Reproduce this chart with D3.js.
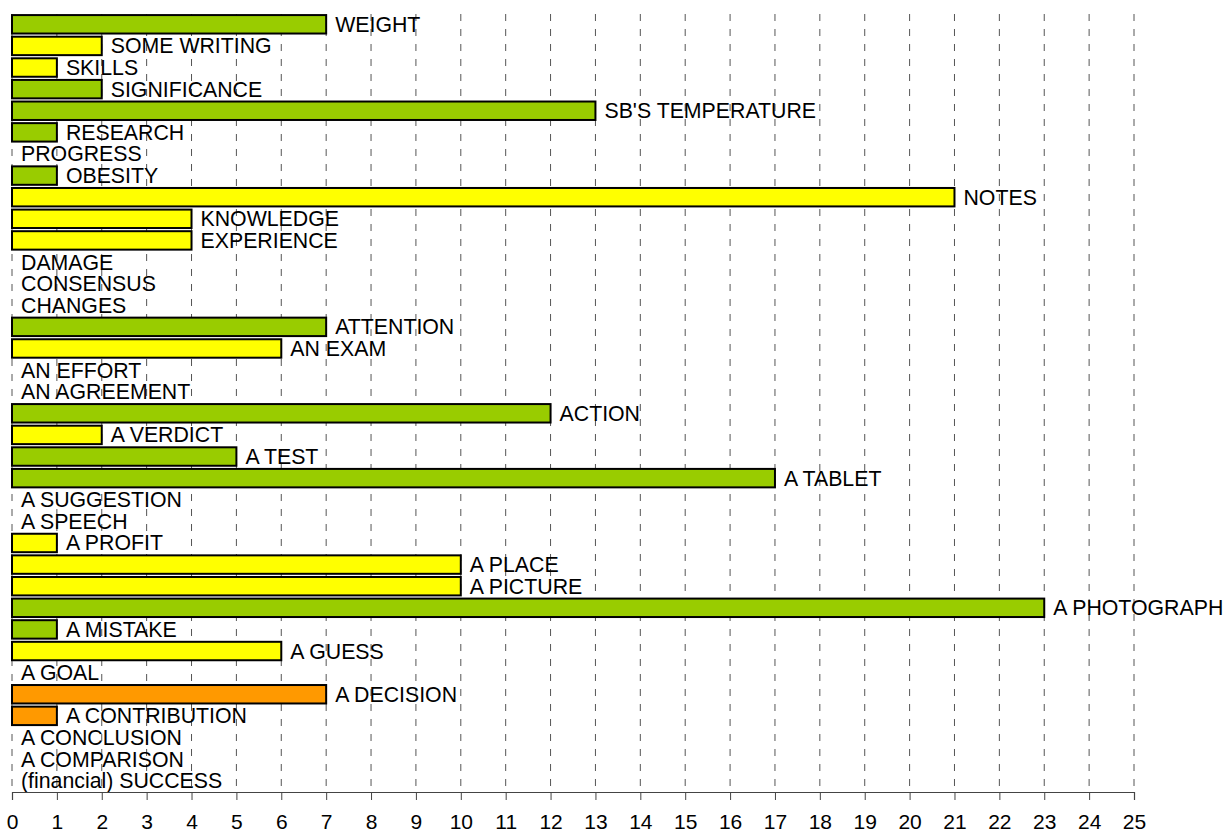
<!DOCTYPE html>
<html>
<head>
<meta charset="utf-8">
<script src="https://cdn.jsdelivr.net/npm/d3@7"></script>
<style>
  body { margin: 0; background: #fff; }
  svg text { font-family: 'Liberation Sans', Arial, sans-serif; fill: #000; }
</style>
</head>
<body>
<svg width="1226" height="833"></svg>
<script>
const categories = [
  'WEIGHT', 'SOME WRITING', 'SKILLS', 'SIGNIFICANCE', "SB'S TEMPERATURE", 'RESEARCH',
  'PROGRESS', 'OBESITY', 'NOTES', 'KNOWLEDGE', 'EXPERIENCE', 'DAMAGE', 'CONSENSUS',
  'CHANGES', 'ATTENTION', 'AN EXAM', 'AN EFFORT', 'AN AGREEMENT', 'ACTION', 'A VERDICT',
  'A TEST', 'A TABLET', 'A SUGGESTION', 'A SPEECH', 'A PROFIT', 'A PLACE', 'A PICTURE',
  'A PHOTOGRAPH', 'A MISTAKE', 'A GUESS', 'A GOAL', 'A DECISION', 'A CONTRIBUTION',
  'A CONCLUSION', 'A COMPARISON', '(financial) SUCCESS'
]
const values = [
  7, 2, 1, 2, 13, 1,
  0, 1, 21, 4, 4, 0, 0,
  0, 7, 6, 0, 0, 12, 2,
  5, 17, 0, 0, 1, 10, 10,
  23, 1, 6, 0, 7, 1,
  0, 0, 0
]
// group of each category (decides the bar colour)
const groups = [
  'g', 'y', 'y', 'g', 'g', 'g',
  'y', 'g', 'y', 'y', 'y', 'y', 'y',
  'y', 'g', 'y', 'y', 'y', 'g', 'y',
  'g', 'g', 'y', 'y', 'y', 'y', 'y',
  'g', 'g', 'y', 'y', 'o', 'o',
  'o', 'o', 'o'
]
const xTicks = d3.range(0, 26)

const data = categories.map((c, i) => ({name: c, value: values[i], group: groups[i]}))

const svg = d3.select('svg')
const x = d3.scaleLinear().domain([0, 25]).range([12, 1134])
const y = d3.scaleBand().domain(categories).range([13, 791]).paddingInner(0.1).paddingOuter(0.05)
const color = d3.scaleOrdinal().domain(['g', 'y', 'o']).range(['#99cc00', '#ffff00', '#ff9900'])

// dashed grid lines
svg.append('g')
  .selectAll('line')
  .data(xTicks)
  .enter()
  .append('line')
  .attr('x1', (d) => x(d))
  .attr('x2', (d) => x(d))
  .attr('y1', 14)
  .attr('y2', 791)
  .attr('stroke', '#555')
  .attr('stroke-width', 1)
  .attr('stroke-dasharray', '7,8')

// bars
svg.append('g')
  .selectAll('rect')
  .data(data.filter((d) => d.value > 0))
  .enter()
  .append('rect')
  .attr('x', x(0))
  .attr('y', (d) => y(d.name) + 1)
  .attr('width', (d) => x(d.value) - x(0))
  .attr('height', y.bandwidth() - 1)
  .attr('fill', (d) => color(d.group))
  .attr('stroke', '#000')
  .attr('stroke-width', 2)

// labels
svg.append('g')
  .selectAll('text')
  .data(data)
  .enter()
  .append('text')
  .attr('x', (d) => x(d.value) + 9)
  .attr('y', (d) => y(d.name) + y.bandwidth() / 2 + 1)
  .attr('dominant-baseline', 'central')
  .style('font-size', '21.3px')
  .text((d) => d.name)

// bottom axis
const axis = svg.append('g')
  .attr('transform', 'translate(0, 792)')
  .call(d3.axisBottom(x).tickValues(xTicks).tickSize(8).tickPadding(14).tickFormat(d3.format('d')))
axis.select('.domain').attr('stroke', '#444').attr('stroke-width', 1.2)
axis.selectAll('.tick line').attr('stroke', '#444')
axis.selectAll('.tick text')
  .style('font-size', '21px')
  .style('font-family', "'Liberation Sans', Arial, sans-serif")
  .attr('fill', '#000')
</script>
</body>
</html>
